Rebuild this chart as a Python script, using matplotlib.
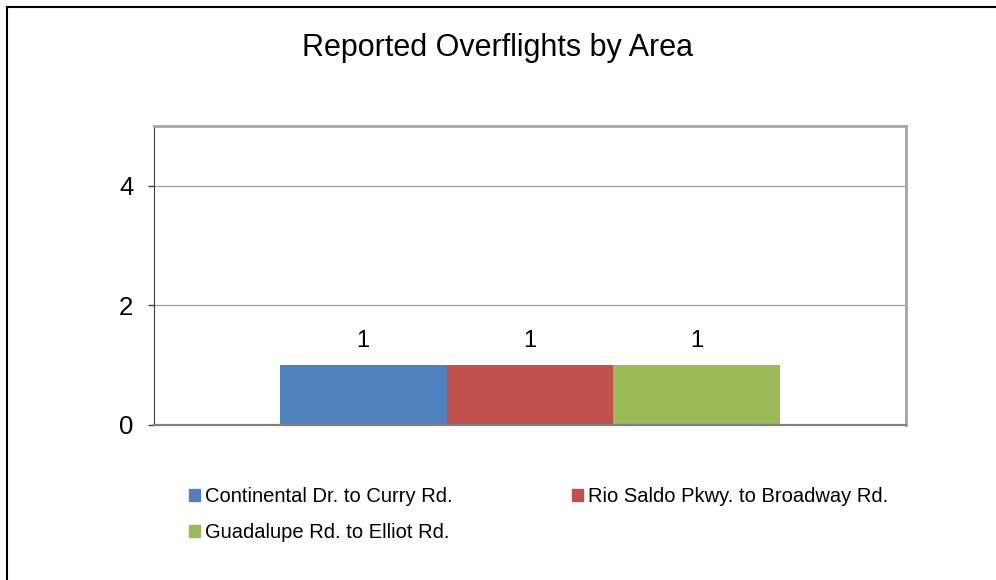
import matplotlib.pyplot as plt
from matplotlib.lines import Line2D
from matplotlib.patches import Patch

plt.rcParams['font.family'] = ['Liberation Sans', 'DejaVu Sans']

title = "Reported Overflights by Area"
areas = ["Continental Dr. to Curry Rd.",
         "Rio Saldo Pkwy. to Broadway Rd.",
         "Guadalupe Rd. to Elliot Rd."]
counts = [1, 1, 1]
colors = ["#4F81BD", "#C0504D", "#9BBB59"]
yticks = [0, 2, 4]

fig = plt.figure(figsize=(9.96, 5.8), dpi=100)
ax = fig.add_axes([154/996, 1-425/580, 752/996, 299/580])

w = 0.222
n = len(areas)
for i in range(n):
    x = (i - (n-1)/2) * w
    ax.bar(x, counts[i], width=w, color=colors[i], label=areas[i], zorder=2)
    ax.text(x, counts[i] + 0.22, str(counts[i]), ha='center', va='bottom', fontsize=17)

ax.set_xlim(-0.5, 0.5)
ax.set_ylim(0, 5)
ax.set_xticks([])
ax.set_yticks(yticks)
ax.tick_params(axis='y', labelsize=18.5, length=4.3, width=1, color='#404040', pad=10.5)
ax.grid(axis='y', color='#A0A0A0', linewidth=0.9, zorder=0)
ax.spines['left'].set_color('#404040')
ax.spines['bottom'].set_color('#808080')
ax.spines['bottom'].set_linewidth(1.6)
for s in ['top', 'right']:
    ax.spines[s].set_color('#A6A6A6')
    ax.spines[s].set_linewidth(2)

fig.text(0.5, 1-48/580, title, ha='center', va='center', fontsize=22)

order = [0, 2, 1]
handles = [Patch(color=colors[i]) for i in order]
labels = [areas[i] for i in order]
fig.legend(handles, labels, loc='upper left', bbox_to_anchor=(181/996, 1-479/580),
           ncol=2, frameon=False, fontsize=14.5, handlelength=0.55, handleheight=0.55,
           handletextpad=0.25, columnspacing=5.9, labelspacing=0.85, borderaxespad=0)

# outer frame
fig.add_artist(Line2D([7/996, 7/996], [0, 1-7/580], color='black', linewidth=1.5,
                      transform=fig.transFigure))
fig.add_artist(Line2D([7/996, 1], [1-7/580, 1-7/580], color='black', linewidth=1.5,
                      transform=fig.transFigure))

fig.savefig("out.png", dpi=100)
